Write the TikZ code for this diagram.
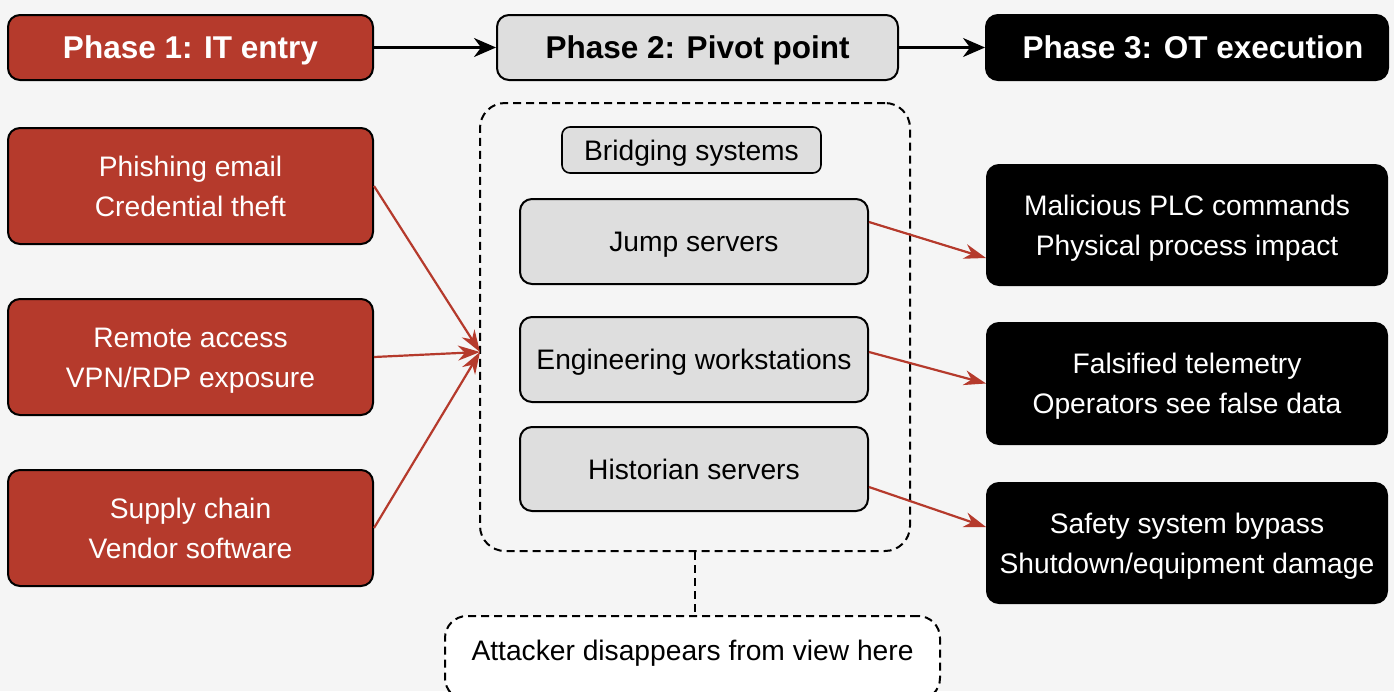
\documentclass[tikz,border=0pt]{standalone}
\usepackage{fontspec}
\setmainfont{Liberation Sans}
\usetikzlibrary{arrows.meta}
\definecolor{bg}{HTML}{F5F5F5}
\definecolor{itred}{HTML}{B53A2C}
\definecolor{pivgrey}{HTML}{DEDEDE}
\newcommand\bodystrut{\rule[-10pt]{0pt}{40pt}}
\newcommand\titlestrut{\rule[-9pt]{0pt}{41pt}}
\newcommand\twolines[2]{\begin{tabular}{@{}c@{}}\rule{0pt}{32pt}#1\\#2\end{tabular}}
\begin{document}
\begin{tikzpicture}[x=1pt,y=-1pt,
 box/.style={draw=black, line width=2pt, rounded corners=12pt, inner sep=0pt, align=center, font=\fontsize{28.2}{40}\selectfont, execute at begin node={\bodystrut}, execute at end node={\bodystrut}},
 multi/.style={execute at begin node={}, execute at end node={}},
 redbox/.style={box, fill=itred, text=white},
 greybox/.style={box, fill=pivgrey, text=black},
 blackbox/.style={box, fill=black, text=white},
 titlefont/.style={font=\fontsize{31.5}{40}\selectfont\bfseries, execute at begin node={\titlestrut}, execute at end node={\titlestrut}},
 dashline/.style={draw=black, line width=2pt, dash pattern=on 8pt off 5pt},
 flowarrow/.style={draw=black, line width=2.2pt, -{Stealth[length=22pt,width=19pt,inset=7pt]}},
 redarrow/.style={draw=itred, line width=2.2pt, -{Stealth[length=22pt,width=15pt,inset=7pt]}}]
\useasboundingbox (0,0) rectangle (1394,691);
\clip (0,0) rectangle (1394,691);
\fill[bg] (0,0) rectangle (1394,691);

% Phase headers
\node[redbox, titlefont, minimum width=365pt, minimum height=65pt] (p1) at (190.5,47.5) {Phase 1: IT entry};
\node[greybox, titlefont, minimum width=401pt, minimum height=65pt] (p2) at (697.5,47.5) {Phase 2: Pivot point};
\node[blackbox, titlefont, minimum width=402pt, minimum height=65pt] (p3) at (1187,47.5) {\hspace*{12pt}Phase 3: OT execution};
\draw[flowarrow] (p1) -- (p2);
\draw[flowarrow] (p2) -- (p3);

% Left entry vectors
\node[redbox, multi, minimum width=365pt, minimum height=116pt] (l1) at (190.5,186) {\twolines{Phishing email}{Credential theft}};
\node[redbox, multi, minimum width=365pt, minimum height=116pt] (l2) at (190.5,357) {\twolines{Remote access}{VPN/RDP exposure}};
\node[redbox, multi, minimum width=365pt, minimum height=116pt] (l3) at (190.5,528) {\twolines{Supply chain}{Vendor software}};

% Pivot container
\node[dashline, rounded corners=25pt, minimum width=430pt, minimum height=448pt, inner sep=0pt] (cont) at (695,327) {};
\node[greybox, rounded corners=8pt, line width=1.6pt, minimum width=259pt, minimum height=46pt] (bridge) at (691.5,150) {Bridging systems};
\node[greybox, minimum width=348pt, minimum height=85pt] (jump) at (694,241.5) {Jump servers};
\node[greybox, minimum width=348pt, minimum height=85pt] (eng) at (694,359.5) {Engineering workstations};
\node[greybox, minimum width=348pt, minimum height=84pt] (hist) at (694,469) {Historian servers};

\coordinate (hub) at (480,352);
\draw[redarrow] (l1.east) -- (hub);
\draw[redarrow] (l2.east) -- (hub);
\draw[redarrow] (l3.east) -- (hub);

% OT outcomes
\node[blackbox, multi, minimum width=400pt, minimum height=120pt] (r1) at (1187,225) {\twolines{Malicious PLC commands}{Physical process impact}};
\node[blackbox, multi, minimum width=400pt, minimum height=121pt] (r2) at (1187,383.5) {\twolines{Falsified telemetry}{Operators see false data}};
\node[blackbox, multi, minimum width=400pt, minimum height=120pt] (r3) at (1187,543) {\twolines{Safety system bypass}{Shutdown/equipment damage}};

\draw[redarrow] ([yshift=19.5pt]jump.east) -- ([yshift=-33pt]r1.west);
\draw[redarrow] ([yshift=7.5pt]eng.east) -- (r2.west);
\draw[redarrow] ([yshift=-18pt]hist.east) -- ([yshift=16pt]r3.west);

% Bottom note
\node[dashline, fill=white, rounded corners=22pt, minimum width=495pt, minimum height=84pt, inner sep=0pt] (note) at (692.5,658) {};
\node[font=\fontsize{28.2}{40}\selectfont, inner sep=0pt] (notetext) at (692.5,650) {\bodystrut Attacker disappears from view here\bodystrut};
\draw[dashline] (cont.south) -- (cont.south |- note.north);
\end{tikzpicture}
\end{document}
